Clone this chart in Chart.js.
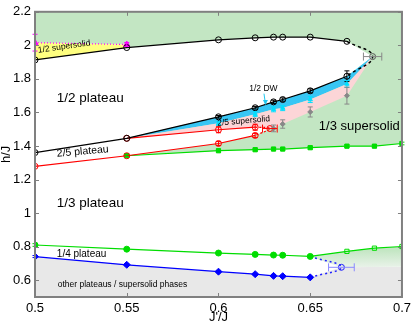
<!DOCTYPE html>
<html>
<head>
<meta charset="utf-8">
<script src="https://cdn.jsdelivr.net/npm/chart.js@4.4.1/dist/chart.umd.min.js"></script>
<style>
  html, body { margin: 0; padding: 0; background: #fff; }
  #wrap { width: 415px; height: 325px; }
</style>
</head>
<body>
<div id="wrap"><canvas id="phase"></canvas></div>
<script>
// ---------- Data ----------
const xTicks = [0.5, 0.55, 0.6, 0.65, 0.7];
const yTicks = [0.6, 0.8, 1, 1.2, 1.4, 1.6, 1.8, 2, 2.2];
const xMin = 0.5, xMax = 0.7, yMin = 0.5, yMax = 2.2;

// 1/2 plateau, upper and lower edge (black)
const jHalf = [0.5, 0.55, 0.6, 0.62, 0.63, 0.635, 0.65, 0.67];
const hHalfUpper = [1.913, 1.987, 2.033, 2.045, 2.049, 2.049, 2.049, 2.024];
const hHalfLower = [1.361, 1.446, 1.574, 1.628, 1.663, 1.677, 1.729, 1.816];
const hHalfLowerErr = [0, 0, 0.008, 0.008, 0.01, 0.01, 0.012, 0.032];
const halfTip = { x: 0.684, y: 1.933 };
const halfTipErr = 0.005;

// 1/2 supersolid, upper edge (magenta)
const jMag = [0.5, 0.55];
const hMag = [2.016, 2.005];
const hMagErr = [0.05, 0.012];

// 1/2 domain wall (cyan)
const jDW = [0.6, 0.62, 0.63, 0.635, 0.65, 0.67];
const hDW = [1.535, 1.59, 1.619, 1.626, 1.677, 1.77];
const hDWErr = [0.012, 0.015, 0.015, 0.015, 0.018, 0.02];

// 2/5 plateau (red)
const jFifthLow = [0.5, 0.55, 0.6, 0.62];
const hFifthLow = [1.279, 1.342, 1.415, 1.463];
const jFifthUp = [0.55, 0.6, 0.62];
const hFifthUp = [1.446, 1.497, 1.512];
const hFifthErr = [0, 0.018, 0.018];
const fifthTip = { x: 0.628, y: 1.504 };
const fifthTipErr = 0.004;

// 2/5 supersolid, lower edge (grey)
const jSS = [0.63, 0.635, 0.65, 0.67];
const hSS = [1.505, 1.531, 1.603, 1.70];
const hSSErr = [0.02, 0.025, 0.03, 0.05];

// 1/3 plateau, upper edge (green)
const jThird = [0.55, 0.6, 0.62, 0.63, 0.635, 0.65, 0.67, 0.685, 0.7];
const hThird = [1.342, 1.372, 1.378, 1.382, 1.382, 1.39, 1.399, 1.399, 1.415];

// 1/4 plateau, upper edge (green) and lower edge (blue)
const jQuarterUp = [0.5, 0.55, 0.6, 0.62, 0.63, 0.635, 0.65, 0.67, 0.685, 0.7];
const hQuarterUp = [0.81, 0.785, 0.762, 0.754, 0.75, 0.749, 0.742, 0.772, 0.791, 0.801];
const jQuarterLow = [0.5, 0.55, 0.6, 0.62, 0.63, 0.635, 0.65];
const hQuarterLow = [0.741, 0.692, 0.651, 0.636, 0.626, 0.624, 0.617];
const quarterTip = { x: 0.667, y: 0.677 };
const quarterTipErr = 0.007;
const hGreyEdge = 0.68; // top of the grey region at J'/J = 0.7

// ---------- Helpers ----------
const pts = (xs, ys) => xs.map((x, i) => ({ x, y: ys[i] }));
const rev = a => a.slice().reverse();

const halfUp = pts(jHalf, hHalfUpper);
const halfLow = pts(jHalf, hHalfLower);
const mag = pts(jMag, hMag);
const dw = pts(jDW, hDW);
const fifthLow = pts(jFifthLow, hFifthLow);
const fifthUp = pts(jFifthUp, hFifthUp);
const ss = pts(jSS, hSS);
const third = pts(jThird, hThird);
const quarterUp = pts(jQuarterUp, hQuarterUp);
const quarterLow = pts(jQuarterLow, hQuarterLow);

// ---------- Phase regions (polygons built from the edges) ----------
const polyGreen = [{ x: xMin, y: yMax }, { x: xMax, y: yMax }, ...rev(third), ...rev(mag)];
const polyHalf = [...halfLow, halfTip, ...rev(halfUp)];
const polyFifth = [...fifthLow, fifthTip, ...rev(fifthUp), halfLow[0]];
const polyYellow = [...mag, halfUp[1], halfUp[0]];
const polyDW = [...halfLow.slice(1), halfTip, ...rev(dw)];
const polyPink = [fifthUp[0], ...dw, halfTip, ...rev(ss), fifthTip, ...rev(fifthUp)];
const polyGrey = [{ x: xMin, y: yMin }, { x: xMax, y: yMin }, { x: xMax, y: hGreyEdge }, quarterTip, ...rev(quarterLow)];
const polyFade = [...quarterUp.slice(6), { x: xMax, y: hGreyEdge }, quarterTip];

function region(data, color, order) {
  return {
    data, order,
    showLine: true,
    fill: 'shape',
    backgroundColor: color,
    borderWidth: 0,
    borderColor: 'rgba(0,0,0,0)',
    pointRadius: 0,
    tension: 0
  };
}

function fadeGreen(ctx) {
  const { chart } = ctx;
  const area = chart.chartArea;
  if (!area) return '#c3e6c3';
  const y = chart.scales.y;
  const g = chart.ctx.createLinearGradient(0, y.getPixelForValue(0.78), 0, y.getPixelForValue(hGreyEdge));
  g.addColorStop(0, '#c3e6c3');
  g.addColorStop(1, '#e8f2e8');
  return g;
}

function line(data, color, extra) {
  return Object.assign({
    data,
    showLine: true,
    fill: false,
    borderColor: color,
    backgroundColor: color,
    borderWidth: 1.2,
    pointRadius: 3,
    pointBorderWidth: 1,
    tension: 0,
    order: 1
  }, extra);
}

// ---------- Plugins ----------
const errorBars = {
  id: 'errorBars',
  afterDatasetsDraw(chart) {
    const { ctx, scales: { x, y } } = chart;
    chart.data.datasets.forEach(ds => {
      if (!ds.yErr && !ds.xErr) return;
      ctx.save();
      ctx.strokeStyle = ds.errColor || ds.borderColor;
      ctx.lineWidth = 1;
      ds.data.forEach((p, k) => {
        const px = x.getPixelForValue(p.x), py = y.getPixelForValue(p.y);
        const dy = ds.yErr ? ds.yErr[k] : 0;
        const dx = ds.xErr ? ds.xErr[k] : 0;
        ctx.beginPath();
        if (dy) {
          const t = y.getPixelForValue(p.y + dy), b = y.getPixelForValue(p.y - dy);
          ctx.moveTo(px, t); ctx.lineTo(px, b);
          ctx.moveTo(px - 2.5, t); ctx.lineTo(px + 2.5, t);
          ctx.moveTo(px - 2.5, b); ctx.lineTo(px + 2.5, b);
        }
        if (dx) {
          const l = x.getPixelForValue(p.x - dx), r = x.getPixelForValue(p.x + dx);
          ctx.moveTo(l, py); ctx.lineTo(r, py);
          ctx.moveTo(l, py - 4); ctx.lineTo(l, py + 4);
          ctx.moveTo(r, py - 4); ctx.lineTo(r, py + 4);
        }
        ctx.stroke();
      });
      ctx.restore();
    });
  }
};

const phaseLabels = [
  { text: '1/2 supersolid', x: 0.5016, y: 1.97, size: 8.5, rot: -8, align: 'left' },
  { text: '1/2 plateau', x: 0.5119, y: 1.683, size: 13.5, rot: 0, align: 'left' },
  { text: '2/5 plateau', x: 0.5119, y: 1.353, size: 10.5, rot: -5, align: 'left' },
  { text: '1/3 plateau', x: 0.5119, y: 1.06, size: 13.5, rot: 0, align: 'left' },
  { text: '1/4 plateau', x: 0.5119, y: 0.752, size: 10, rot: 0, align: 'left' },
  { text: 'other plateaus / supersolid phases', x: 0.5124, y: 0.572, size: 8.5, rot: 0, align: 'left' },
  { text: '1/3 supersolid', x: 0.6547, y: 1.514, size: 13, rot: 0, align: 'left' },
  { text: '2/5 supersolid', x: 0.6137, y: 1.549, size: 8.5, rot: -5, align: 'center' },
  { text: '1/2 DW', x: 0.6245, y: 1.741, size: 8.5, rot: 0, align: 'center' }
];
const dwArrow = { from: { x: 0.6248, y: 1.712 }, to: { x: 0.6256, y: 1.650 } };

const annotations = {
  id: 'annotations',
  afterDatasetsDraw(chart) {
    const { ctx, scales: { x, y } } = chart;
    ctx.save();
    ctx.fillStyle = '#000';
    ctx.textBaseline = 'middle';
    phaseLabels.forEach(l => {
      ctx.save();
      ctx.translate(x.getPixelForValue(l.x), y.getPixelForValue(l.y));
      ctx.rotate(l.rot * Math.PI / 180);
      ctx.font = l.size + 'px "Liberation Sans", Arial, sans-serif';
      ctx.textAlign = l.align;
      ctx.fillText(l.text, 0, 0);
      ctx.restore();
    });
    // cyan arrow pointing at the 1/2 DW band
    const x0 = x.getPixelForValue(dwArrow.from.x), y0 = y.getPixelForValue(dwArrow.from.y);
    const x1 = x.getPixelForValue(dwArrow.to.x), y1 = y.getPixelForValue(dwArrow.to.y);
    ctx.strokeStyle = '#22c8f0';
    ctx.fillStyle = '#22c8f0';
    ctx.lineWidth = 1;
    ctx.beginPath(); ctx.moveTo(x0, y0); ctx.lineTo(x1, y1); ctx.stroke();
    ctx.beginPath();
    ctx.moveTo(x1, y1 + 1); ctx.lineTo(x1 - 2.5, y1 - 4); ctx.lineTo(x1 + 2.5, y1 - 4);
    ctx.closePath(); ctx.fill();
    ctx.restore();
  }
};

const frame = {
  id: 'frame',
  afterDraw(chart) {
    const { ctx, chartArea: a, scales: { x, y } } = chart;
    ctx.save();
    ctx.strokeStyle = '#808080';
    ctx.lineWidth = 2;
    ctx.strokeRect(a.left, a.top, a.right - a.left, a.bottom - a.top);
    ctx.lineWidth = 1;
    ctx.beginPath();
    xTicks.forEach(v => {
      const px = Math.round(x.getPixelForValue(v)) + 0.5;
      ctx.moveTo(px, a.bottom); ctx.lineTo(px, a.bottom - 4);
      ctx.moveTo(px, a.top); ctx.lineTo(px, a.top + 4);
    });
    yTicks.forEach(v => {
      const py = Math.round(y.getPixelForValue(v)) + 0.5;
      ctx.moveTo(a.left, py); ctx.lineTo(a.left + 4, py);
      ctx.moveTo(a.right, py); ctx.lineTo(a.right - 4, py);
    });
    ctx.stroke();
    ctx.restore();
  }
};

// ---------- Chart ----------
Chart.defaults.font.family = '"Liberation Sans", Arial, sans-serif';
Chart.defaults.color = '#000';

new Chart(document.getElementById('phase'), {
  type: 'scatter',
  data: {
    datasets: [
      // regions, drawn back to front (higher order first)
      region(polyGreen, '#c3e6c3', 20),
      region(polyHalf, '#ffffff', 19),
      region(polyFifth, '#ffffff', 18),
      region(polyYellow, '#ffff80', 17),
      region(polyDW, '#38c6f4', 16),
      region(polyPink, '#fcd5d7', 15),
      region(polyGrey, '#e8e8e8', 14),
      Object.assign(region(polyFade, '#c3e6c3', 13), { backgroundColor: fadeGreen }),

      // edges
      line(halfUp, '#000', { pointBackgroundColor: 'rgba(0,0,0,0)' }),
      line(halfLow, '#000', { pointBackgroundColor: 'rgba(0,0,0,0)', yErr: hHalfLowerErr }),
      line([halfUp[halfUp.length - 1], halfTip, halfLow[halfLow.length - 1]], '#000', {
        borderDash: [3, 3], borderWidth: 1.5, tension: 0.45,
        pointRadius: [0, 3, 0], pointBackgroundColor: 'rgba(0,0,0,0)', pointBorderColor: '#555',
        xErr: [0, halfTipErr, 0], errColor: '#888'
      }),
      line(mag, '#ff00ff', { borderDash: [1, 2], pointStyle: 'triangle', pointRadius: 3.5, yErr: hMagErr }),
      line(dw, '#00e0ff', { showLine: false, pointStyle: 'triangle', pointRadius: 2.5, yErr: hDWErr }),
      line(ss, '#888', { showLine: false, pointStyle: 'rectRot', pointRadius: 2.5, yErr: hSSErr }),
      line(fifthLow, '#ff0000', { pointBackgroundColor: 'rgba(0,0,0,0)', yErr: [0, 0, 0.012, 0.012] }),
      line(fifthUp, '#ff0000', { pointBackgroundColor: 'rgba(0,0,0,0)', yErr: hFifthErr }),
      line([fifthUp[fifthUp.length - 1], fifthTip, fifthLow[fifthLow.length - 1]], '#ff0000', {
        borderDash: [2, 2], tension: 0.45,
        pointRadius: [0, 3, 0], pointBackgroundColor: 'rgba(0,0,0,0)',
        xErr: [0, fifthTipErr, 0]
      }),
      line(third, '#00dd00', { pointStyle: 'rect', pointRadius: 3, yErr: third.map(() => 0.008) }),
      line(quarterUp, '#00dd00', {
        pointStyle: quarterUp.map((p, i) => i > 6 ? 'rect' : 'circle'),
        pointBackgroundColor: quarterUp.map((p, i) => i > 6 ? 'rgba(0,0,0,0)' : '#00dd00'),
        pointRadius: 3, yErr: quarterUp.map((p, i) => i > 6 ? 0 : 0.008)
      }),
      line(quarterLow, '#0000ff', { pointStyle: 'rectRot', pointRadius: 3.5, yErr: quarterLow.map(() => 0.006) }),
      line([quarterUp[6], quarterTip, quarterLow[quarterLow.length - 1]], '#2020ff', {
        borderDash: [2, 3], borderWidth: 1.5, tension: 0.45,
        pointRadius: [0, 3, 0], pointBackgroundColor: 'rgba(0,0,0,0)',
        xErr: [0, quarterTipErr, 0], errColor: '#8888ff'
      })
    ]
  },
  options: {
    responsive: true,
    maintainAspectRatio: false,
    animation: false,
    layout: { padding: { top: 5, right: 9, left: 0, bottom: 0 } },
    plugins: {
      legend: { display: false },
      tooltip: { enabled: false }
    },
    scales: {
      x: {
        type: 'linear',
        min: xMin,
        max: xMax,
        afterBuildTicks: s => { s.ticks = xTicks.map(v => ({ value: v })); },
        afterFit: s => { s.height = 28; },
        grid: { display: false, drawTicks: false },
        border: { display: false },
        ticks: { font: { size: 13 }, padding: 4, maxRotation: 0, callback: v => String(v) },
        title: { display: true, text: "J'/J", font: { size: 13 }, padding: { top: 0, bottom: 0 } }
      },
      y: {
        type: 'linear',
        min: yMin,
        max: yMax,
        afterBuildTicks: s => { s.ticks = yTicks.map(v => ({ value: v })); },
        afterFit: s => { s.width = 35; },
        grid: { display: false, drawTicks: false },
        border: { display: false },
        ticks: { font: { size: 13 }, padding: 4, callback: v => String(v) },
        title: { display: true, text: 'h/J', font: { size: 13, lineHeight: 1 }, padding: { top: 0, bottom: 0 } }
      }
    }
  },
  plugins: [errorBars, annotations, frame]
});
</script>
</body>
</html>
